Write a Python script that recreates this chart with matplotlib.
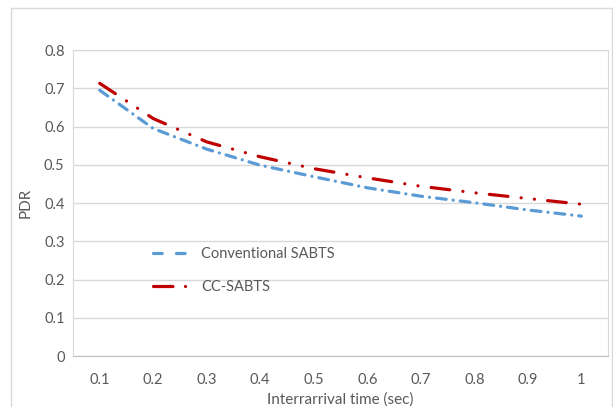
import matplotlib.pyplot as plt
from matplotlib.patches import Rectangle
from matplotlib.lines import Line2D

# Data -------------------------------------------------------------------

interarrival = ['0.1', '0.2', '0.3', '0.4', '0.5', '0.6', '0.7', '0.8', '0.9', '1']
conventional = [0.695, 0.595, 0.541, 0.499, 0.469, 0.440, 0.418, 0.401, 0.382, 0.366]
cc_sabts = [0.713, 0.621, 0.560, 0.521, 0.490, 0.466, 0.444, 0.427, 0.412, 0.397]
y_ticks = [0, 0.1, 0.2, 0.3, 0.4, 0.5, 0.6, 0.7, 0.8]

# Plot -------------------------------------------------------------------

plt.rcParams['font.family'] = ['Lato', 'DejaVu Sans']
plt.rcParams['lines.scale_dashes'] = False

blue = '#5B9BD5'
red = '#C00000'

fig = plt.figure(figsize=(6.13, 4.07), dpi=100)
ax = fig.add_axes([0.119, 0.125, 0.873, 0.752])

# outer chart border
fig.patches.append(Rectangle((0.018, -0.05), 0.98, 1.03, transform=fig.transFigure,
                             fill=False, edgecolor='#D9D9D9', linewidth=1))

x = range(len(interarrival))
ax.plot(x, conventional, color=blue, linewidth=2.3, dash_capstyle='round',
        dashes=(7.1, 5.0, 0.1, 5.0))
ax.plot(x, cc_sabts, color=red, linewidth=2.3, dash_capstyle='round',
        dashes=(13.5, 9.5, 0.1, 9.5, 0.1, 9.5))

ax.set_xlim(-0.5, len(interarrival) - 0.5)
ax.set_ylim(0, 0.8)
ax.set_xticks(list(x))
ax.set_xticklabels(interarrival)
ax.set_yticks(y_ticks)
ax.set_yticklabels(['0' if t == 0 else f'{t:.1f}' for t in y_ticks])
ax.yaxis.grid(True, color='#D9D9D9', linewidth=1)
ax.set_axisbelow(True)
ax.tick_params(length=0, labelsize=10.5, colors='#595959', pad=12)
ax.tick_params(axis='y', pad=6)
for side in ['top', 'right', 'left']:
    ax.spines[side].set_color('#D9D9D9')
ax.spines['bottom'].set_color('#BFBFBF')

ax.set_xlabel('Interrarrival time (sec)', fontsize=11, color='#595959', labelpad=4)
ax.set_ylabel('PDR', fontsize=11, color='#595959', labelpad=8)

# legend samples drawn as in the original (shorter pattern)
handles = [
    Line2D([], [], color=blue, linewidth=2.3, dash_capstyle='round', dashes=(6.3, 10.2)),
    Line2D([], [], color=red, linewidth=2.3, dash_capstyle='round', dashes=(14, 9, 0.1, 20)),
]
leg = ax.legend(handles, ['Conventional SABTS', 'CC-SABTS'], loc='upper left',
                bbox_to_anchor=(0.125, 0.398), frameon=False, fontsize=10.5,
                handlelength=2.5, labelspacing=1.3, handletextpad=0.8)
for t in leg.get_texts():
    t.set_color('#595959')

plt.savefig('out.png', dpi=100)
